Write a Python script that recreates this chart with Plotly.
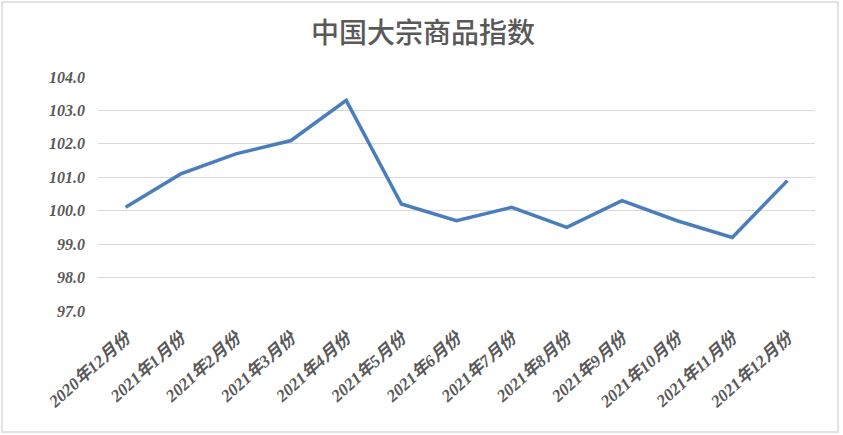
import plotly.graph_objects as go

categories = ["2020年12月份", "2021年1月份", "2021年2月份", "2021年3月份", "2021年4月份",
              "2021年5月份", "2021年6月份", "2021年7月份", "2021年8月份", "2021年9月份",
              "2021年10月份", "2021年11月份", "2021年12月份"]
values = [100.1, 101.1, 101.7, 102.1, 103.3, 100.2, 99.7, 100.1, 99.5, 100.3, 99.7, 99.2, 100.9]
y_ticks = [97, 98, 99, 100, 101, 102, 103, 104]

fig = go.Figure()
fig.add_trace(go.Scatter(x=categories, y=values, mode="lines",
                         line=dict(color="#4A7EBB", width=3.5), showlegend=False))

tick_font = dict(family="Liberation Serif, Noto Sans CJK SC", size=16, color="#595959",
                 style="italic", weight="bold")
x_tick_font = dict(tick_font, size=17)

fig.update_layout(
    width=843, height=435,
    margin=dict(l=98, r=28, t=77, b=124),
    paper_bgcolor="white", plot_bgcolor="white",
    title=dict(text="中国大宗商品指数", x=423/843, xref="container", y=1 - 33/435,
               yref="container", yanchor="middle", xanchor="center",
               font=dict(family="Noto Sans CJK SC", size=28, color="#595959", weight=500)),
    xaxis=dict(type="category", tickangle=-42, tickfont=x_tick_font, showgrid=False,
               showline=False, ticks="", range=[-0.5, 12.5], ticklabelstandoff=13),
    yaxis=dict(range=[97, 104], tickvals=y_ticks, tickformat=".1f", tickfont=tick_font,
               showgrid=True, gridcolor="#D9D9D9", gridwidth=1, zeroline=False,
               showline=False, ticks="", ticklabelstandoff=12),
)
fig.add_shape(type="rect", xref="paper", yref="paper",
              x0=-96/717, x1=(838-98)/717, y0=-(432-311)/234, y1=(311-2)/234,
              line=dict(color="#D9D9D9", width=1.5), fillcolor="rgba(0,0,0,0)", layer="below")
fig.write_html("out.html", config={"displayModeBar": False},
               post_script="document.body.style.margin='0';document.body.style.overflow='hidden';")
